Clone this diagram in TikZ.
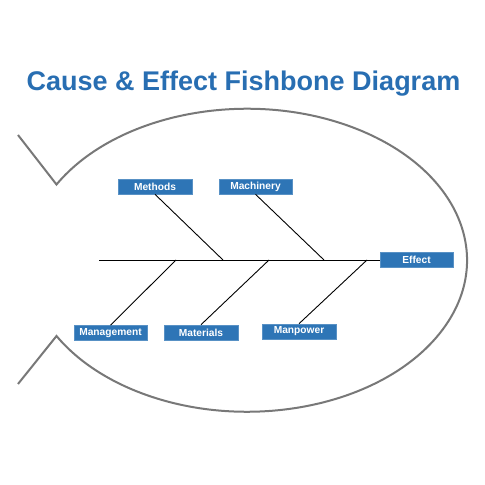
\documentclass[tikz,border=0pt]{standalone}
\usepackage{fontspec}
\setmainfont{Liberation Sans}
\definecolor{fishblue}{RGB}{46,117,182}
\definecolor{titleblue}{RGB}{40,110,178}
\definecolor{outline}{RGB}{120,120,120}
\begin{document}
\begin{tikzpicture}[x=1pt,y=1pt,
  cause/.style={draw=fishblue!80!white, line width=0.6pt, fill=fishblue, text=white, font=\bfseries\fontsize{10.2}{11}\selectfont, minimum width=73pt, minimum height=15pt, inner sep=0pt},
  bone/.style={draw=black, line width=0.9pt},
  fish/.style={draw=outline, line width=2pt, line join=miter}]
\useasboundingbox (0,0) rectangle (485,485);
\fill[white] (0,0) rectangle (485,485);
\node[font=\bfseries\fontsize{27}{30}\selectfont, text=titleblue] (title) at (243.5,401) {Cause \& Effect Fishbone Diagram};
% fish outline
\coordinate (tailtop) at (18,350);
\coordinate (tailbot) at (18,101);
\draw[fish] (tailtop) -- (56.5,300.5) arc[start angle=150, end angle=-150, x radius=220, y radius=151.5] -- (tailbot);
% boxes
\node[cause] (effect) at (416.5,225.5) {Effect};
\node[cause, minimum width=74pt] (methods) at (155,298.5) {Methods};
\node[cause] (machinery) at (255.5,298.5) {Machinery};
\node[cause] (management) at (110.5,152) {Management};
\node[cause, minimum width=74pt] (materials) at (201,152.5) {Materials};
\node[cause, minimum width=74pt] (manpower) at (299,153.5) {Manpower};
% spine
\coordinate (head) at (99,225);
\coordinate (s1) at (223,225);
\coordinate (s2) at (324,225);
\coordinate (s3) at (176,225);
\coordinate (s4) at (269,225);
\coordinate (s5) at (367,225);
\draw[bone] (head) -- (effect.west |- head);
\draw[bone] (methods.south) -- (s1);
\draw[bone] (machinery.south) -- (s2);
\draw[bone] (management.north) -- (s3);
\draw[bone] (materials.north) -- (s4);
\draw[bone] (manpower.north) -- (s5);
\end{tikzpicture}
\end{document}
